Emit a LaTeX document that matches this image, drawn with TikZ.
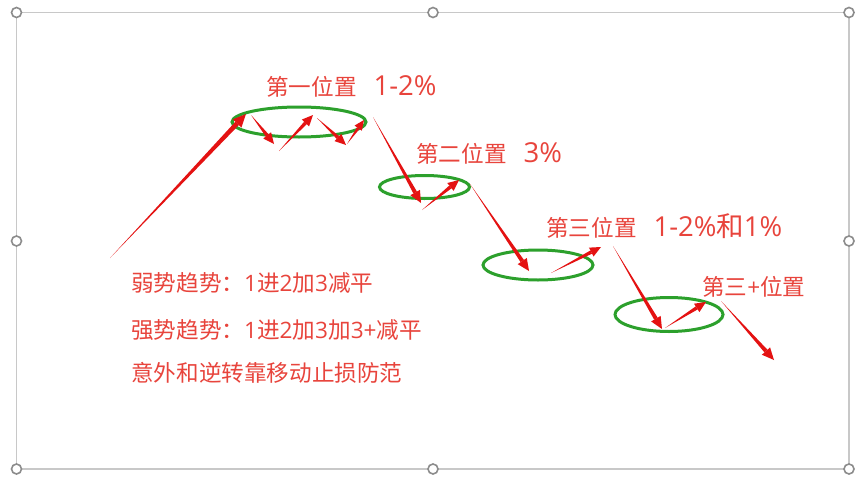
\documentclass[tikz,border=0pt]{standalone}
\usepackage{fontspec}
\setmainfont{Noto Sans CJK SC}
\newfontfamily\latfont{Open Sans}
\newcommand\LL[1]{{\latfont #1}}
\newcommand\bigpart[1]{{\fontsize{27.5}{31}\selectfont #1}}
\usetikzlibrary{calc}
\definecolor{txtred}{RGB}{232,68,60}
\definecolor{arrred}{RGB}{228,18,18}
\definecolor{ringgreen}{RGB}{44,160,44}
\definecolor{framegray}{RGB}{200,200,200}
\definecolor{handlegray}{RGB}{140,140,140}
\tikzset{
  lbl/.style={text=txtred, font=\fontsize{22.6}{26}\selectfont, inner sep=0pt, anchor=base west},
  ring/.style={draw=ringgreen, line width=3pt},
  handle/.style={circle, draw=handlegray, fill=white, line width=1.6pt, minimum size=10pt, inner sep=0pt},
  framebox/.style={draw=framegray, line width=1.8pt},
}
% tapered arrow: [half width at head base]{start}{end}{head length}{head half width}
\newcommand\tarrow[5][1.7]{%
  \coordinate (tmph) at ($(#3)!#4pt!(#2)$);
  \fill[arrred] (#2) -- ($(tmph)!#1pt!90:(#3)$) -- ($(tmph)!#1pt!-90:(#3)$) -- cycle;
  \fill[arrred] ($(tmph)!#5pt!90:(#3)$) -- (#3) -- ($(tmph)!#5pt!-90:(#3)$) -- cycle;
}
\begin{document}
\begin{tikzpicture}[x=1pt,y=-1pt]
\useasboundingbox (0,0) rectangle (865,482);
\fill[white] (0,0) rectangle (865,482);
% selection frame
\coordinate (ftl) at (16.5,12.5);
\coordinate (fbr) at (849,469);
\draw[framebox] (ftl) rectangle (fbr);
\foreach \n/\p in {h1/{(16.5,12.5)},h2/{(433,12.5)},h3/{(849,12.5)},h4/{(16.5,241)},h5/{(849,241)},h6/{(16.5,469)},h7/{(433,469)},h8/{(849,469)}}
  \node[handle] (\n) at \p {};
% ellipses
\draw[ring] (299,122) ellipse [x radius=67, y radius=15];
\draw[ring] (424.5,187) ellipse [x radius=45, y radius=11.5];
\draw[ring] (538,265) ellipse [x radius=55, y radius=15];
\draw[ring] (669,314.5) ellipse [x radius=54, y radius=17];
% arrow coordinates
\coordinate (a1s) at (110,258); \coordinate (a1e) at (246,114);
\coordinate (a2s) at (251,115); \coordinate (a2e) at (274,144);
\coordinate (a3s) at (279,151); \coordinate (a3e) at (313,115);
\coordinate (a4s) at (317,118); \coordinate (a4e) at (346,145);
\coordinate (a5s) at (347,144); \coordinate (a5e) at (364,120);
\coordinate (a6s) at (373,117); \coordinate (a6e) at (421,203);
\coordinate (a7s) at (422,210); \coordinate (a7e) at (459,180);
\coordinate (a8s) at (470,184); \coordinate (a8e) at (529,271);
\coordinate (a9s) at (551,273); \coordinate (a9e) at (601,247);
\coordinate (a10s) at (613,246); \coordinate (a10e) at (662,329);
\coordinate (a11s) at (665,328); \coordinate (a11e) at (706,302);
\coordinate (a12s) at (721,301); \coordinate (a12e) at (774,360);
\tarrow[2.4]{a1s}{a1e}{13}{6}
\tarrow[1.8]{a2s}{a2e}{11}{5}
\tarrow[1.8]{a3s}{a3e}{11}{5}
\tarrow[1.8]{a4s}{a4e}{11}{5}
\tarrow[1.5]{a5s}{a5e}{10}{4.5}
\tarrow[2]{a6s}{a6e}{12}{5.5}
\tarrow[1.8]{a7s}{a7e}{11}{5}
\tarrow[2]{a8s}{a8e}{12}{5.5}
\tarrow[1.8]{a9s}{a9e}{11}{5}
\tarrow[2]{a10s}{a10e}{12}{5.5}
\tarrow[1.8]{a11s}{a11e}{11}{5}
\tarrow[2]{a12s}{a12e}{12}{5.5}
% labels
\node[lbl] (t1) at (266,95.5) {第一位置\hspace{0.75em}\bigpart{\LL{1-2\%}}};
\node[lbl] (t2) at (416,162) {第二位置\hspace{0.75em}\bigpart{\LL{3\%}}};
\node[lbl] (t3) at (546,236.5) {第三位置\hspace{0.75em}\bigpart{\LL{1-2\%}和\LL{1\%}}};
\node[lbl] (t4) at (702,295) {第三\LL{+}位置};
\node[lbl] (l1) at (131,291) {弱势趋势：\LL{1}进\LL{2}加\LL{3}减平};
\node[lbl] (l2) at (131,338) {强势趋势：\LL{1}进\LL{2}加\LL{3}加\LL{3+}减平};
\node[lbl] (l3) at (131,381) {意外和逆转靠移动止损防范};
\end{tikzpicture}
\end{document}
